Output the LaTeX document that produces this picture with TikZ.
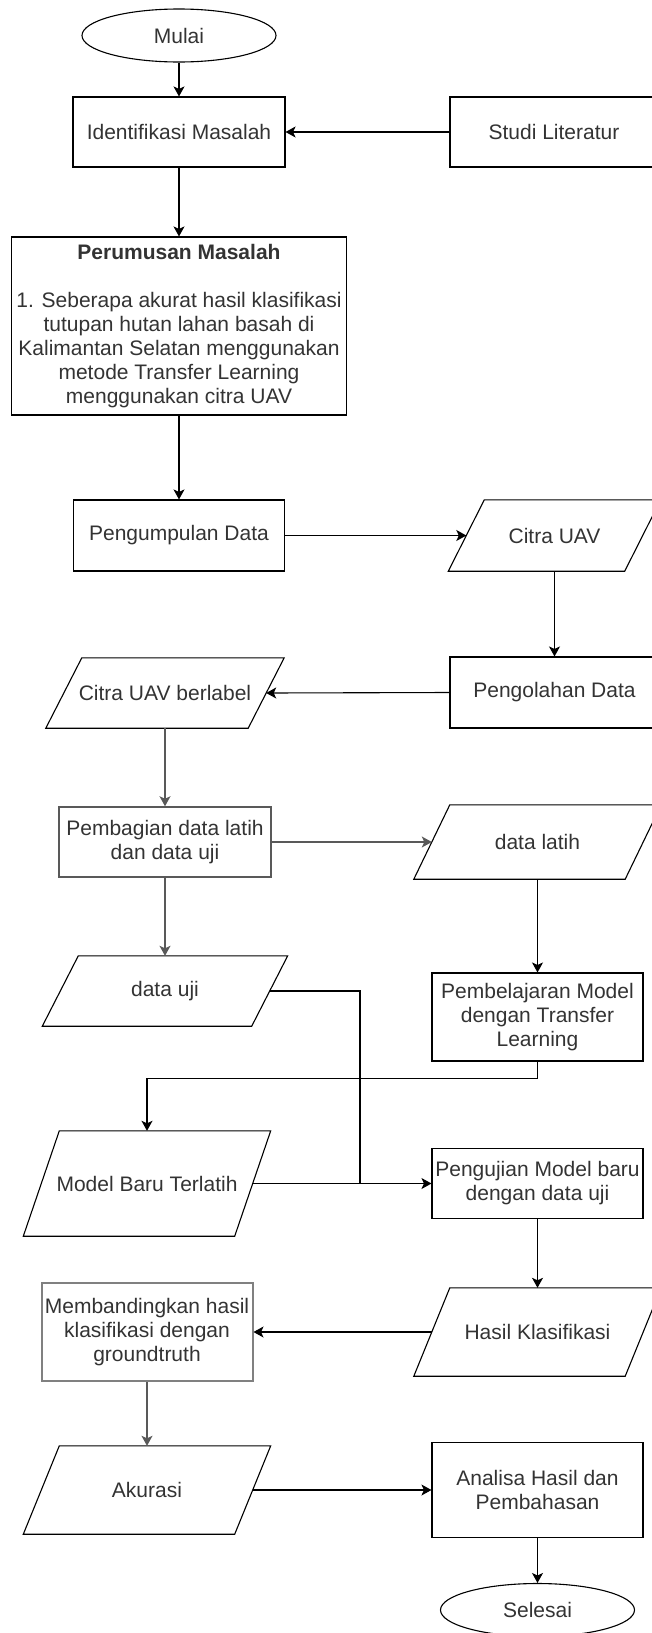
\documentclass[tikz,border=0pt]{standalone}
\usepackage{fontspec}
\setmainfont{Liberation Sans}
\usetikzlibrary{arrows.meta,shapes.geometric,calc}
\definecolor{txt}{gray}{0.2}
\definecolor{edgegray}{gray}{0.35}
\definecolor{boxgray}{gray}{0.5}
\begin{document}
\begin{tikzpicture}[x=1pt,y=-1pt,
  font=\fontsize{21}{24}\selectfont,
  every node/.append style={text=txt},
  box/.style={draw=black, line width=1.1pt, rectangle, inner sep=0pt, align=center},
  io/.style={inner sep=0pt, align=center},
  term/.style={draw=black, line width=1.1pt, ellipse, inner sep=0pt, minimum width=194pt, minimum height=53pt},
  arr/.style={line width=1.1pt, -{Stealth[length=10pt,width=11pt,inset=2.5pt]}},
  garr/.style={arr, draw=edgegray},
  paraline/.style={line width=1.1pt, line join=miter}
  ]
\useasboundingbox (0,0) rectangle (651,1633);

\node[term] (mulai) at (179,35.5) {Mulai};
\node[box, minimum width=212pt, minimum height=70pt] (ident) at (179,132) {Identifikasi Masalah};
\node[box, minimum width=208pt, minimum height=70pt] (studi) at (554,132) {Studi Literatur};
\node[box, minimum width=335pt, minimum height=178pt] (rumus) at (179,326) {\textbf{Perumusan Masalah}\\[24pt]1. Seberapa akurat hasil klasifikasi\\tutupan hutan lahan basah di\\Kalimantan Selatan menggunakan\\metode Transfer Learning\\menggunakan citra UAV};
\node[box, minimum width=211pt, minimum height=71pt] (kumpul) at (179,535.5) {Pengumpulan Data};
\node[io, minimum width=176pt, minimum height=71pt] (citra) at (554.5,535.5) {Citra UAV};
\node[box, minimum width=209pt, minimum height=71pt] (olah) at (554.5,692.5) {Pengolahan Data};
\node[io, minimum width=202pt, minimum height=70pt] (berlabel) at (165,693) {Citra UAV berlabel};
\node[box, draw=edgegray, line width=1.5pt, minimum width=212pt, minimum height=70pt] (bagi) at (165,842) {Pembagian data latih\\dan data uji};
\node[io, minimum width=211pt, minimum height=74pt] (latih) at (537.5,842) {data latih};
\node[io, minimum width=209pt, minimum height=70pt] (uji) at (165,991) {data uji};
\node[box, minimum width=211pt, minimum height=88pt] (ajar) at (537.5,1017) {Pembelajaran Model\\dengan Transfer\\Learning};
\node[io, minimum width=211pt, minimum height=105pt] (model) at (147,1183.5) {Model Baru Terlatih};
\node[box, minimum width=211pt, minimum height=70pt] (pengujian) at (537.5,1183.5) {Pengujian Model baru\\dengan data uji};
\node[io, minimum width=211pt, minimum height=88pt] (hasil) at (537.5,1332) {Hasil Klasifikasi};
\node[box, draw=boxgray, line width=2pt, minimum width=211pt, minimum height=98pt] (banding) at (147,1332) {Membandingkan hasil\\klasifikasi dengan\\groundtruth};
\node[io, minimum width=211pt, minimum height=88pt] (akurasi) at (147,1490) {Akurasi};
\node[box, minimum width=211pt, minimum height=95pt] (analisa) at (537.5,1490) {Analisa Hasil dan\\Pembahasan};
\node[term] (selesai) at (537.5,1610) {Selesai};
\coordinate (join) at (360,1183.5);

\foreach \n in {citra,berlabel,latih,uji,model,hasil,akurasi}
  \draw[paraline] ($(\n.south west)+(-18,0)$) -- ($(\n.north west)+(18,0)$) -- ($(\n.north east)+(18,0)$) -- ($(\n.south east)+(-18,0)$) -- cycle;

\draw[arr] (mulai.south) -- (ident.north);
\draw[arr] (studi.west) -- (ident.east);
\draw[arr] (ident.south) -- (rumus.north);
\draw[arr] (rumus.south) -- (kumpul.north);
\draw[arr] (kumpul.east) -- (citra.west);
\draw[arr] (citra.south) -- (olah.north);
\draw[arr] (olah.west) -- (berlabel.east);
\draw[garr] (berlabel.south) -- (bagi.north);
\draw[garr] (bagi.east) -- (latih.west);
\draw[garr] (bagi.south) -- (uji.north);
\draw[arr] (latih.south) -- (ajar.north);
\draw[arr] (ajar.south) -- ++(0,17) -| (model.north);
\draw[line width=1.1pt] (uji.east) -| (join);
\draw[arr] (model.east) -- (pengujian.west);
\draw[arr] (pengujian.south) -- (hasil.north);
\draw[arr] (hasil.west) -- (banding.east);
\draw[garr] (banding.south) -- (akurasi.north);
\draw[arr] (akurasi.east) -- (analisa.west);
\draw[arr] (analisa.south) -- (selesai.north);
\end{tikzpicture}
\end{document}
